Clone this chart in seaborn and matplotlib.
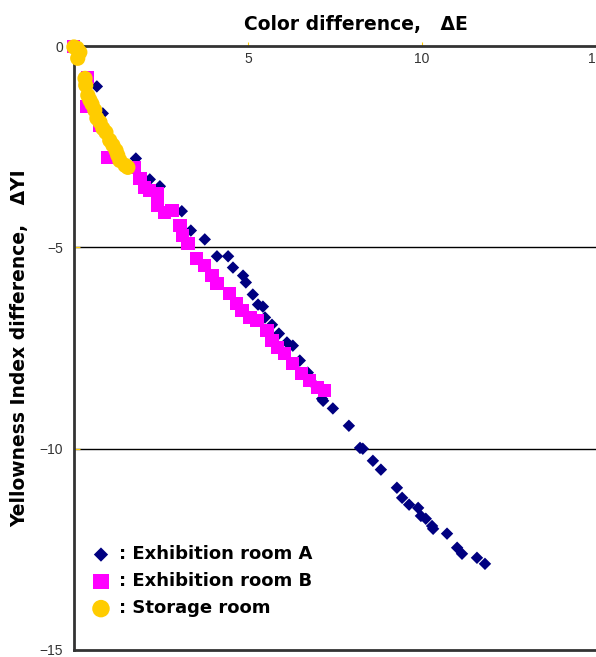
import numpy as np
import pandas as pd
import matplotlib
matplotlib.use("Agg")
import matplotlib.pyplot as plt
import seaborn as sns

# Exhibition room A (navy diamonds)
room_a_de = [0.66, 0.83, 1.78, 2.18, 2.47, 3.10, 3.36, 3.76, 4.11, 4.43, 4.57, 4.86, 4.94,
             5.14, 5.29, 5.43, 5.49, 5.69, 5.89, 6.12, 6.29, 6.49, 6.72, 6.93, 7.13, 7.16,
             7.44, 7.90, 8.22, 8.30, 8.59, 8.82, 9.28, 9.43, 9.63, 9.89, 9.97, 10.11, 10.29,
             10.32, 10.72, 11.01, 11.15, 11.58, 11.81]
room_a_dyi = [-1.00, -1.67, -2.79, -3.31, -3.48, -4.10, -4.58, -4.80, -5.22, -5.22, -5.50,
              -5.70, -5.87, -6.17, -6.42, -6.47, -6.74, -6.92, -7.14, -7.36, -7.44, -7.81,
              -8.11, -8.43, -8.76, -8.81, -9.00, -9.43, -9.98, -10.00, -10.30, -10.52,
              -10.97, -11.22, -11.39, -11.47, -11.67, -11.74, -11.92, -11.99, -12.11,
              -12.46, -12.61, -12.71, -12.86]

# Exhibition room B (magenta squares)
room_b_de = [0.0, 0.40, 0.37, 0.75, 0.98, 1.75, 1.90, 2.04, 2.18, 2.39, 2.41, 2.61, 2.82,
             3.05, 3.13, 3.28, 3.53, 3.76, 3.97, 4.11, 4.48, 4.68, 4.83, 5.06, 5.26, 5.55,
             5.69, 5.86, 6.06, 6.29, 6.55, 6.78, 7.01, 7.21]
room_b_dyi = [0.0, -0.77, -1.49, -1.97, -2.76, -3.01, -3.28, -3.51, -3.58, -3.66, -3.96,
              -4.13, -4.08, -4.45, -4.70, -4.90, -5.27, -5.45, -5.70, -5.90, -6.14, -6.39,
              -6.57, -6.74, -6.82, -7.06, -7.31, -7.49, -7.64, -7.89, -8.13, -8.31, -8.48,
              -8.56]

# Storage room (yellow circles)
storage_de = [0.0, 0.09, 0.17, 0.11, 0.32, 0.34, 0.40, 0.46, 0.52, 0.60, 0.66, 0.75, 0.83,
              0.92, 1.03, 1.12, 1.21, 1.26, 1.32, 1.47, 1.55]
storage_dyi = [-0.02, -0.05, -0.15, -0.30, -0.80, -0.97, -1.22, -1.34, -1.44, -1.59, -1.79,
               -1.89, -2.04, -2.14, -2.34, -2.46, -2.59, -2.71, -2.84, -2.96, -3.01]

x_ticks = [0, 5, 10, 15]
y_ticks = [0, -5, -10, -15]

sns.set_style("white")
plt.rcParams['font.family'] = ['Liberation Sans', 'DejaVu Sans']

fig = plt.figure(figsize=(5.96, 6.57), dpi=100)
ax = fig.add_axes([0.124, 0.0107, 0.876, 0.919])

# horizontal grid lines at -5 and -10
for yv in [-5, -10]:
    ax.axhline(yv, color='black', lw=1, zorder=0)

df_a = pd.DataFrame({'dE': room_a_de, 'dYI': room_a_dyi})
df_b = pd.DataFrame({'dE': room_b_de, 'dYI': room_b_dyi})
df_s = pd.DataFrame({'dE': storage_de, 'dYI': storage_dyi})

sns.scatterplot(data=df_a, x='dE', y='dYI', marker='D', color='#000080', s=40,
                edgecolor='none', ax=ax, label=': Exhibition room A', clip_on=False, zorder=3)
sns.scatterplot(data=df_b, x='dE', y='dYI', marker='s', color='#FF00FF', s=90,
                edgecolor='none', ax=ax, label=': Exhibition room B', clip_on=False, zorder=4)
sns.scatterplot(data=df_s, x='dE', y='dYI', marker='o', color='#FFCC00', s=120,
                edgecolor='none', ax=ax, label=': Storage room', clip_on=False, zorder=5)

ax.set_xlim(0, 15)
ax.set_ylim(-15, 0)
ax.set_xticks(x_ticks)
ax.set_yticks(y_ticks)
ax.set_xticklabels([str(t) for t in x_ticks])
ax.set_yticklabels(['0', '\u22125', '\u221210', '\u221215'])

ax.xaxis.set_label_position('top')
ax.tick_params(axis='x', top=True, labeltop=True, bottom=False, labelbottom=False,
               direction='out', length=3, color='#FFCC00', pad=-17, labelsize=10,
               labelcolor='#333333')
ax.tick_params(axis='y', left=True, direction='in', length=4, color='#FFCC00',
               labelsize=10, labelcolor='#333333', pad=8)

for side in ['top', 'left', 'bottom']:
    ax.spines[side].set_color('#333333')
    ax.spines[side].set_linewidth(2)
ax.spines['right'].set_visible(False)

heavy = {'family': ['DejaVu Sans'], 'weight': 'bold', 'color': 'black'}
ax.set_xlabel('Color difference,   \u0394E', fontsize=13.5, **heavy)
ax.xaxis.set_label_coords(0.54, 1.027)
ax.set_ylabel('Yellowness Index difference,   \u0394YI', fontsize=13.5, labelpad=7, **heavy)

leg = ax.legend(loc='upper left', bbox_to_anchor=(0.127, 0.181), bbox_transform=fig.transFigure,
                frameon=False, handletextpad=0.0, labelspacing=0.5, borderaxespad=0,
                prop={'family': 'DejaVu Sans', 'weight': 'bold', 'size': 13},
                markerscale=1.15)
for t in leg.get_texts():
    t.set_color('black')

fig.savefig('out.png', dpi=100)
